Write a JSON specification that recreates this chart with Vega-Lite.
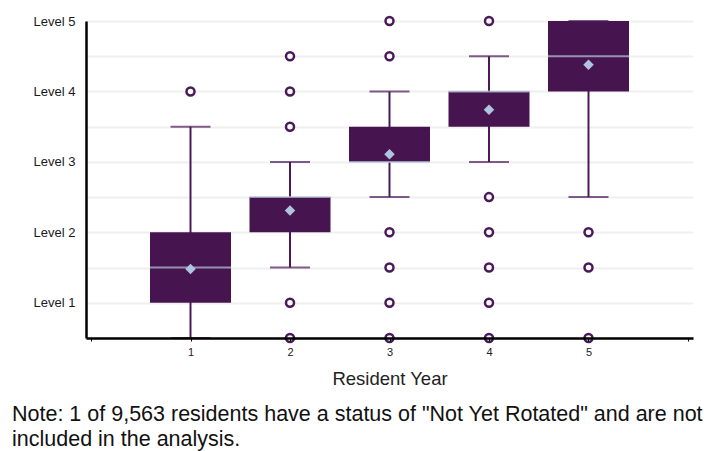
{
  "$schema": "https://vega.github.io/schema/vega-lite/v6.json",
  "width": 607,
  "height": 317,
  "autosize": {"type": "none"},
  "padding": {"left": 86, "top": 21, "right": 20, "bottom": 113},
  "background": "white",
  "config": {
    "font": "Liberation Sans",
    "view": {"stroke": null},
    "axisY": {
      "title": null,
      "tickCount": 10,
      "labelExpr": "datum.value % 1 === 0 ? 'Level ' + datum.value : ''",
      "labelOverlap": false,
      "labelFontSize": 13,
      "labelColor": "#1a1a1a",
      "labelPadding": 11,
      "ticks": false,
      "domainColor": "#000",
      "domainWidth": 2.5,
      "grid": true,
      "gridColor": "#efefef",
      "gridWidth": 2,
      "zindex": 0
    }
  },
  "title": {
    "text": ["Note: 1 of 9,563 residents have a status of \"Not Yet Rotated\" and are not", "included in the analysis."],
    "orient": "bottom",
    "anchor": "start",
    "frame": "group",
    "dx": -74,
    "offset": 16,
    "fontSize": 21.5,
    "fontWeight": "normal",
    "color": "#111",
    "lineHeight": 25,
    "font": "Liberation Sans"
  },
  "datasets": {
    "stats": [
      {"year": 1, "lower": 0.5, "q1": 1, "median": 1.5, "q3": 2, "upper": 3.5, "mean": 1.48},
      {"year": 2, "lower": 1.5, "q1": 2, "median": 2.5, "q3": 2.5, "upper": 3, "mean": 2.31},
      {"year": 3, "lower": 2.5, "q1": 3, "median": 3, "q3": 3.5, "upper": 4, "mean": 3.11},
      {"year": 4, "lower": 3, "q1": 3.5, "median": 4, "q3": 4, "upper": 4.5, "mean": 3.74},
      {"year": 5, "lower": 2.5, "q1": 4, "median": 4.5, "q3": 5, "upper": 5, "mean": 4.38}
    ],
    "outliers": [
      {"year": 1, "value": 4},
      {"year": 2, "value": 4.5},
      {"year": 2, "value": 4},
      {"year": 2, "value": 3.5},
      {"year": 2, "value": 1},
      {"year": 2, "value": 0.5},
      {"year": 3, "value": 5},
      {"year": 3, "value": 4.5},
      {"year": 3, "value": 2},
      {"year": 3, "value": 1.5},
      {"year": 3, "value": 1},
      {"year": 3, "value": 0.5},
      {"year": 4, "value": 5},
      {"year": 4, "value": 2.5},
      {"year": 4, "value": 2},
      {"year": 4, "value": 1.5},
      {"year": 4, "value": 1},
      {"year": 4, "value": 0.5},
      {"year": 5, "value": 2},
      {"year": 5, "value": 1.5},
      {"year": 5, "value": 0.5}
    ]
  },
  "data": {"name": "stats"},
  "encoding": {
    "x": {
      "field": "year",
      "type": "quantitative",
      "scale": {"domain": [0, 6], "nice": false, "zero": false},
      "axis": {
        "title": "Resident Year",
        "titleFontSize": 18.5,
        "titleFontWeight": "normal",
        "titleColor": "#222",
        "titlePadding": 12,
        "values": [0, 1, 2, 3, 4, 5, 6],
        "labelExpr": "datum.value >= 1 && datum.value <= 5 ? datum.label : ''",
        "labelOverlap": false,
        "labelFontSize": 11,
        "labelColor": "#222",
        "labelPadding": 5,
        "tickSize": 3,
        "tickColor": "#000",
        "domainColor": "#000",
        "domainWidth": 2.5,
        "grid": false,
        "zindex": 1
      }
    }
  },
  "layer": [
    {
      "mark": {"type": "rule", "color": "#4a1a58", "strokeWidth": 2},
      "encoding": {
        "y": {"field": "lower", "type": "quantitative", "scale": {"domain": [0.5, 5], "nice": false, "zero": false}},
        "y2": {"field": "upper"}
      }
    },
    {
      "mark": {"type": "bar", "color": "#461550", "size": 81},
      "encoding": {
        "y": {"field": "q1", "type": "quantitative"},
        "y2": {"field": "q3"}
      }
    },
    {
      "mark": {"type": "tick", "orient": "horizontal", "color": "#b9c8dc", "size": 81, "thickness": 2},
      "encoding": {"y": {"field": "median", "type": "quantitative"}}
    },
    {
      "mark": {"type": "tick", "orient": "horizontal", "color": "#4a1a58", "size": 40, "thickness": 2},
      "encoding": {"y": {"field": "upper", "type": "quantitative"}}
    },
    {
      "mark": {"type": "tick", "orient": "horizontal", "color": "#4a1a58", "size": 40, "thickness": 2},
      "encoding": {"y": {"field": "lower", "type": "quantitative"}}
    },
    {
      "mark": {"type": "point", "shape": "diamond", "filled": true, "color": "#afc4de", "size": 110, "opacity": 1},
      "encoding": {"y": {"field": "mean", "type": "quantitative"}}
    },
    {
      "data": {"name": "outliers"},
      "mark": {"type": "point", "shape": "circle", "filled": false, "stroke": "#4a1a58", "fill": "white", "fillOpacity": 1, "strokeWidth": 2.5, "size": 64, "opacity": 1},
      "encoding": {"y": {"field": "value", "type": "quantitative"}}
    }
  ]
}
